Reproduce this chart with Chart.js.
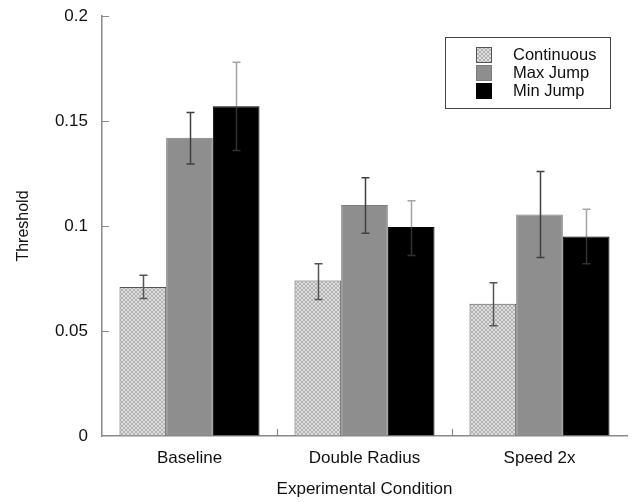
<!DOCTYPE html>
<html>
<head>
<meta charset="utf-8">
<script src="https://cdn.jsdelivr.net/npm/chart.js@4/dist/chart.umd.min.js"></script>
<style>
  html, body { margin: 0; padding: 0; background: #fff; }
</style>
</head>
<body>
<canvas id="chart" width="636" height="502"></canvas>
<script>
// conditions along the x axis
const conditions = ['Baseline', 'Double Radius', 'Speed 2x'];
const seriesNames = ['Continuous', 'Max Jump', 'Min Jump'];

// mean thresholds
const continuous = [0.071, 0.074, 0.063];
const maxJump = [0.142, 0.110, 0.1055];
const minJump = [0.157, 0.0995, 0.095];

// error bar ends (low / high)
const continuousLow = [0.0655, 0.065, 0.0525];
const continuousHigh = [0.0765, 0.082, 0.073];
const maxJumpLow = [0.1295, 0.0965, 0.085];
const maxJumpHigh = [0.154, 0.123, 0.126];
const minJumpLow = [0.136, 0.086, 0.082];
const minJumpHigh = [0.178, 0.112, 0.108];

const yTicks = [0, 0.05, 0.1, 0.15, 0.2];

const FONT = 'Liberation Sans, Arial, Helvetica, sans-serif';

function hatchPattern() {
    const c = document.createElement('canvas');
    c.width = 4; c.height = 4;
    const g = c.getContext('2d');
    g.fillStyle = '#dedede';
    g.fillRect(0, 0, 4, 4);
    g.fillStyle = '#b2b2b2';
    for (let i = 0; i < 4; i++) {
        g.fillRect(i, i, 1, 1);
        g.fillRect(3 - i, i, 1, 1);
    }
    return document.getElementById('chart').getContext('2d').createPattern(c, 'repeat');
}

const hatch = hatchPattern();

// error bars drawn on top of every bar
const errorBars = {
    id: 'errorBars',
    afterDatasetsDraw(chart) {
        const ctx = chart.ctx;
        const y = chart.scales.y;
        chart.data.datasets.forEach((ds, i) => {
            const meta = chart.getDatasetMeta(i);
            meta.data.forEach((bar, j) => {
                const top = y.getPixelForValue(ds.errHigh[j]);
                const bot = y.getPixelForValue(ds.errLow[j]);
                const x = Math.round(bar.x) + 0.5;
                ctx.save();
                ctx.strokeStyle = ds.errColor;
                ctx.lineWidth = 1.5;
                ctx.beginPath();
                ctx.moveTo(x, top); ctx.lineTo(x, bot);
                ctx.moveTo(x - 4, top); ctx.lineTo(x + 4, top);
                ctx.moveTo(x - 4, bot); ctx.lineTo(x + 4, bot);
                ctx.stroke();
                ctx.restore();
            });
        });
    }
};

// short tick marks pointing into the plot
const innerTicks = {
    id: 'innerTicks',
    afterDraw(chart) {
        const ctx = chart.ctx;
        const {x, y} = chart.scales;
        const area = chart.chartArea;
        ctx.save();
        ctx.strokeStyle = '#8a8a8a';
        ctx.lineWidth = 1.2;
        ctx.beginPath();
        yTicks.forEach(v => {
            if (v === 0) return;
            const py = Math.round(y.getPixelForValue(v)) + 0.5;
            ctx.moveTo(area.left, py);
            ctx.lineTo(area.left + 7, py);
        });
        for (let k = 0; k < conditions.length - 1; k++) {
            const px = Math.round(x.getPixelForValue(k + 0.5)) + 0.5;
            ctx.moveTo(px, area.bottom);
            ctx.lineTo(px, area.bottom - 7);
        }
        ctx.stroke();
        ctx.restore();
    }
};

// boxed legend in the top right corner
const boxLegend = {
    id: 'boxLegend',
    afterDraw(chart) {
        const ctx = chart.ctx;
        const area = chart.chartArea;
        const bx = area.right - 182, by = area.top + 21, bw = 165, bh = 71;
        ctx.save();
        ctx.fillStyle = '#fff';
        ctx.fillRect(bx, by, bw, bh);
        ctx.strokeStyle = '#444';
        ctx.lineWidth = 1;
        ctx.strokeRect(bx + 0.5, by + 0.5, bw, bh);
        ctx.font = '16.5px ' + FONT;
        ctx.textBaseline = 'middle';
        chart.data.datasets.forEach((ds, i) => {
            const sy = by + 10 + i * 18;
            ctx.fillStyle = ds.backgroundColor;
            ctx.fillRect(bx + 31, sy, 16, 16);
            ctx.strokeStyle = ds.borderColor;
            ctx.strokeRect(bx + 31.5, sy + 0.5, 15, 15);
            ctx.fillStyle = '#111';
            ctx.fillText(ds.label, bx + 68, sy + 8);
        });
        ctx.restore();
    }
};

new Chart(document.getElementById('chart'), {
    type: 'bar',
    data: {
        labels: conditions,
        datasets: [
            {
                label: seriesNames[0],
                data: continuous,
                errLow: continuousLow,
                errHigh: continuousHigh,
                errColor: '#555',
                backgroundColor: hatch,
                borderColor: '#555',
                borderWidth: 1
            },
            {
                label: seriesNames[1],
                data: maxJump,
                errLow: maxJumpLow,
                errHigh: maxJumpHigh,
                errColor: '#404040',
                backgroundColor: '#8e8e8e',
                borderColor: '#7c7c7c',
                borderWidth: 1
            },
            {
                label: seriesNames[2],
                data: minJump,
                errLow: minJumpLow,
                errHigh: minJumpHigh,
                errColor: 'rgba(90,90,90,0.55)',
                backgroundColor: '#000',
                borderColor: '#000',
                borderWidth: 1
            }
        ]
    },
    options: {
        responsive: false,
        animation: false,
        categoryPercentage: 0.8,
        barPercentage: 1.0,
        layout: { padding: { top: 16, right: 9, left: 0, bottom: 0 } },
        plugins: {
            legend: { display: false },
            tooltip: { enabled: false }
        },
        scales: {
            x: {
                grid: { display: false, drawTicks: false },
                border: { color: '#8a8a8a', width: 1.5 },
                ticks: { color: '#111', padding: 12, font: { family: FONT, size: 17 } },
                title: {
                    display: true,
                    text: 'Experimental Condition',
                    color: '#111',
                    font: { family: FONT, size: 17 },
                    padding: { top: 0, bottom: 2 }
                },
                afterFit(scale) { scale.height = 66; }
            },
            y: {
                min: 0,
                max: 0.2,
                // invisible tick marks only push the labels away from the axis
                grid: { display: true, drawOnChartArea: false, drawTicks: true, tickLength: 10, tickColor: 'rgba(0,0,0,0)' },
                border: { color: '#8a8a8a', width: 1.5 },
                afterBuildTicks(scale) { scale.ticks = yTicks.map(v => ({ value: v })); },
                ticks: {
                    color: '#111',
                    padding: 4,
                    font: { family: FONT, size: 17 },
                    callback: v => String(+v.toFixed(2))
                },
                title: {
                    display: true,
                    text: 'Threshold',
                    color: '#111',
                    font: { family: FONT, size: 16 },
                    padding: { top: 14, bottom: 0 }
                },
                afterFit(scale) { scale.width = 102; }
            }
        }
    },
    plugins: [errorBars, innerTicks, boxLegend]
});
</script>
</body>
</html>
